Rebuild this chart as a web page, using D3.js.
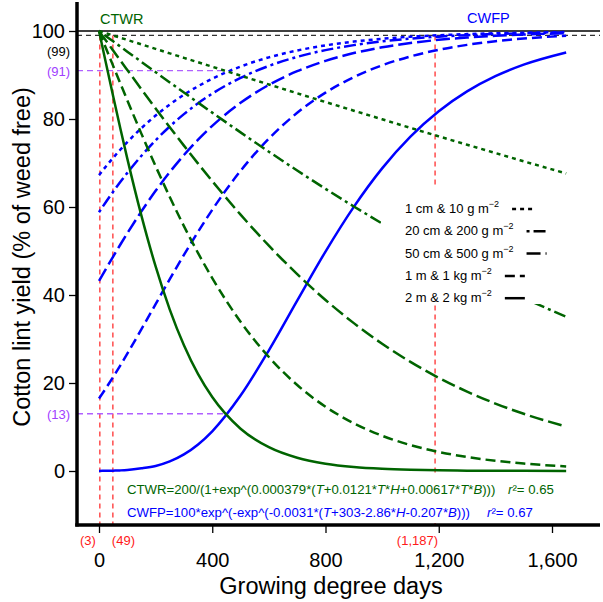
<!DOCTYPE html>
<html>
<head>
<meta charset="utf-8">
<script src="https://cdn.jsdelivr.net/npm/d3@7"></script>
<style>
  body { margin: 0; background: #fff; }
  svg { font-family: Arial, "Liberation Sans", Helvetica, sans-serif; }
</style>
</head>
<body>
<div id="chart"></div>
<script>
// Growing degree days sampled along the curves
var gdd = [0, 25, 50, 75, 100, 150, 200, 250, 300, 350, 400, 500, 600, 700, 800, 900, 1000, 1100, 1200, 1300, 1400, 1500, 1650];

// CTWR (critical time of weed removal), % of weed free yield
var ctwr1cm = [100, 99.49, 98.98, 98.47, 97.97, 96.95, 95.93, 94.92, 93.90, 92.89, 91.88, 89.86, 87.85, 85.85, 83.86, 81.89, 79.93, 77.98, 76.06, 74.15, 72.26, 70.39, 67.63];
var ctwr20cm = [100, 98.83, 97.65, 96.48, 95.31, 92.97, 90.64, 88.32, 86.02, 83.72, 81.45, 76.96, 72.57, 68.29, 64.13, 60.12, 56.25, 52.53, 48.98, 45.59, 42.37, 39.32, 35.06];
var ctwr50cm = [100, 97.78, 95.56, 93.34, 91.14, 86.75, 82.41, 78.14, 73.95, 69.86, 65.88, 58.27, 51.21, 44.74, 38.87, 33.61, 28.92, 24.80, 21.18, 18.05, 15.33, 13.00, 10.11];
var ctwr1m = [100, 96.03, 92.08, 88.15, 84.25, 76.62, 69.27, 62.26, 55.66, 49.52, 43.84, 33.93, 25.90, 19.54, 14.61, 10.85, 8.02, 5.90, 4.33, 3.17, 2.32, 1.69, 1.05];
var ctwr2m = [100, 92.55, 85.18, 77.97, 70.99, 57.98, 46.49, 36.69, 28.57, 22.00, 16.80, 9.61, 5.41, 3.01, 1.67, 0.92, 0.51, 0.28, 0.15, 0.08, 0.05, 0.03, 0.01];

// CWFP (critical weed free period)
var cwfp1cm = [67.24, 69.26, 71.18, 73.01, 74.74, 77.93, 80.78, 83.29, 85.51, 87.45, 89.15, 91.92, 94.01, 95.57, 96.73, 97.59, 98.23, 98.70, 99.04, 99.30, 99.48, 99.62, 99.76];
var cwfp20cm = [58.82, 61.20, 63.48, 65.67, 67.76, 71.65, 75.17, 78.31, 81.11, 83.59, 85.77, 89.35, 92.07, 94.12, 95.65, 96.79, 97.64, 98.26, 98.72, 99.06, 99.31, 99.49, 99.68];
var cwfp50cm = [43.20, 45.99, 48.73, 51.42, 54.03, 59.02, 63.67, 67.93, 71.81, 75.31, 78.44, 83.68, 87.75, 90.86, 93.21, 94.98, 96.29, 97.27, 97.99, 98.52, 98.91, 99.20, 99.50];
var cwfp1m = [16.49, 18.87, 21.37, 23.97, 26.67, 32.24, 37.93, 43.59, 49.11, 54.39, 59.36, 68.22, 75.54, 81.40, 85.99, 89.52, 92.20, 94.22, 95.73, 96.85, 97.68, 98.29, 98.92];
var cwfp2m = [0.02, 0.05, 0.08, 0.14, 0.23, 0.60, 1.15, 2.18, 3.77, 6.03, 9.03, 17.14, 27.43, 38.73, 49.87, 60.03, 68.78, 75.99, 81.76, 86.27, 89.73, 92.36, 95.13];

// legend labels and tick values
var legendLabels = ["1 cm & 10 g m", "20 cm & 200 g m", "50 cm & 500 g m", "1 m & 1 kg m", "2 m & 2 kg m"];
var xTicks = [0, 400, 800, 1200, 1600];
var yTicks = [0, 20, 40, 60, 80, 100];

// reference marks
var redGdd = [3, 49, 1187];
var redLabels = ["(3)", "(49)", "(1,187)"];
var purpleYield = [91, 13];
var purpleGdd = [444, 445];

// Set size of chart
var svgWidth = 603;
var svgHeight = 602;

var svg = d3.select("#chart")
  .append("svg")
  .attr("width", svgWidth)
  .attr("height", svgHeight);

var x = d3.scaleLinear().domain([0, 1600]).range([99, 552]);
var y = d3.scaleLinear().domain([0, 100]).range([471, 31]);

var axisLeftX = 77, axisBottomY = 525, plotRight = 600, plotTop = 2;

var green = "#006400", blue = "#0000ff", red = "#ff3030", purple = "#b060ff";

// dash patterns for the 5 height & biomass levels
var dashes = ["4,4", "3,4,12,4", "14,5", "10,5", null];

// Reference lines
svg.append("line")
  .attr("x1", axisLeftX).attr("x2", plotRight)
  .attr("y1", y(100)).attr("y2", y(100))
  .attr("stroke", "#000").attr("stroke-width", 1.3);
svg.append("line")
  .attr("x1", axisLeftX).attr("x2", plotRight)
  .attr("y1", y(99)).attr("y2", y(99))
  .attr("stroke", "#333").attr("stroke-width", 1.3)
  .attr("stroke-dasharray", "5,4");

svg.selectAll(".redline")
  .data(redGdd)
  .enter()
  .append("line")
  .attr("class", "redline")
  .attr("x1", d => x(d)).attr("x2", d => x(d))
  .attr("y1", y(99)).attr("y2", axisBottomY)
  .attr("stroke", red).attr("stroke-width", 1.3)
  .attr("stroke-dasharray", "5,4");

svg.selectAll(".purpleline")
  .data(purpleYield)
  .enter()
  .append("line")
  .attr("class", "purpleline")
  .attr("x1", axisLeftX).attr("x2", (d, i) => x(purpleGdd[i]))
  .attr("y1", d => y(d)).attr("y2", d => y(d))
  .attr("stroke", purple).attr("stroke-width", 1.4)
  .attr("stroke-dasharray", "6,4");

// Curves
var line = d3.line()
  .x(d => x(d[0]))
  .y(d => y(d[1]))
  .curve(d3.curveMonotoneX);

var ctwrSeries = [ctwr1cm, ctwr20cm, ctwr50cm, ctwr1m, ctwr2m];
var cwfpSeries = [cwfp1cm, cwfp20cm, cwfp50cm, cwfp1m, cwfp2m];

function drawSeries(series, color) {
  series.forEach(function(vals, i) {
    var path = svg.append("path")
      .datum(gdd.map((g, j) => [g, vals[j]]))
      .attr("d", line)
      .attr("fill", "none")
      .attr("stroke", color)
      .attr("stroke-width", 2.5);
    if (dashes[i]) path.attr("stroke-dasharray", dashes[i]);
  });
}
drawSeries(cwfpSeries, blue);
drawSeries(ctwrSeries, green);

// Axes
var leftAxis = d3.axisLeft(y).tickValues(yTicks).tickSize(8).tickPadding(4);
var yAxisG = svg.append("g")
  .attr("transform", `translate(${axisLeftX}, 0)`)
  .call(leftAxis);
yAxisG.select(".domain").remove();
yAxisG.selectAll("line").attr("stroke-width", 1.3);
yAxisG.selectAll("text").attr("font-size", 20).attr("font-family", "Arial, 'Liberation Sans', sans-serif");

var bottomAxis = d3.axisBottom(x).tickValues(xTicks).tickSize(8).tickPadding(20).tickFormat(d3.format(","));
var xAxisG = svg.append("g")
  .attr("transform", `translate(0, ${axisBottomY})`)
  .call(bottomAxis);
xAxisG.select(".domain").remove();
xAxisG.selectAll("line").attr("stroke-width", 1.3);
xAxisG.selectAll("text").attr("font-size", 20).attr("font-family", "Arial, 'Liberation Sans', sans-serif");

svg.append("line")
  .attr("x1", axisLeftX).attr("x2", axisLeftX)
  .attr("y1", plotTop).attr("y2", axisBottomY + 1.5)
  .attr("stroke", "#000").attr("stroke-width", 3.5);
svg.append("line")
  .attr("x1", axisLeftX - 1.75).attr("x2", plotRight)
  .attr("y1", axisBottomY).attr("y2", axisBottomY)
  .attr("stroke", "#000").attr("stroke-width", 3.5);

// Axis titles
svg.append("text")
  .attr("x", 331).attr("y", 594)
  .attr("text-anchor", "middle")
  .attr("font-size", 23.5)
  .text("Growing degree days");
svg.append("text")
  .attr("transform", "translate(30, 257) rotate(-90)")
  .attr("text-anchor", "middle")
  .attr("font-size", 23.5)
  .text("Cotton lint yield (% of weed free)");

// Reference labels
svg.append("text").attr("x", 70).attr("y", 56).attr("text-anchor", "end")
  .attr("font-size", 13).attr("fill", "#000").text("(99)");
svg.selectAll(".purplelabel")
  .data(purpleYield)
  .enter()
  .append("text")
  .attr("class", "purplelabel")
  .attr("x", 70).attr("y", d => y(d) + 5)
  .attr("text-anchor", "end")
  .attr("font-size", 13).attr("fill", "#a040ff")
  .text(d => "(" + d + ")");
svg.selectAll(".redlabel")
  .data(redGdd)
  .enter()
  .append("text")
  .attr("class", "redlabel")
  .attr("x", (d, i) => i === 0 ? x(d) - 4 : (i === 1 ? x(d) - 1 : x(d) + 3))
  .attr("y", 545)
  .attr("text-anchor", (d, i) => i === 1 ? "start" : "end")
  .attr("font-size", 13).attr("fill", "#ff1a1a")
  .text((d, i) => redLabels[i]);

svg.append("text").attr("x", 100).attr("y", 24)
  .attr("font-size", 14.5).attr("fill", green).text("CTWR");
svg.append("text").attr("x", 467).attr("y", 23)
  .attr("font-size", 14.5).attr("fill", blue).text("CWFP");

// Legend
svg.append("rect")
  .attr("x", 381).attr("y", 185).attr("width", 195).attr("height", 119)
  .attr("fill", "#fff");

legendLabels.forEach(function(lab, i) {
  var cy = 208 + i * 22.3;
  var t = svg.append("text")
    .attr("x", 405).attr("y", cy + 5)
    .attr("font-size", 13).attr("fill", "#000");
  t.append("tspan").text(lab);
  t.append("tspan").attr("font-size", 9).attr("dy", -6).text("\u22122");
  var end = 405 + t.node().getComputedTextLength();
  var l = svg.append("line")
    .attr("x1", end + 13).attr("x2", end + 33)
    .attr("y1", cy + 1).attr("y2", cy + 1)
    .attr("stroke", "#000").attr("stroke-width", 2.5);
  if (dashes[i]) l.attr("stroke-dasharray", dashes[i]);
});

// Formula box
svg.append("rect")
  .attr("x", 120).attr("y", 474).attr("width", 440).attr("height", 49)
  .attr("fill", "#fff");

function formula(parts, color, yy) {
  var t = svg.append("text").attr("x", 127).attr("y", yy)
    .attr("font-size", 13.2).attr("fill", color);
  parts.forEach(function(p) {
    var s = t.append("tspan");
    if (typeof p === "string") s.text(p);
    else s.attr("font-style", "italic").text(p.i);
  });
}
formula(["CTWR=200/(1+exp^(0.000379*(", {i: "T"}, "+0.0121*", {i: "T"}, "*", {i: "H"}, "+0.00617*", {i: "T"}, "*", {i: "B"}, ")))"], green, 494);
formula(["CWFP=100*exp^(-exp^(-0.0031*(", {i: "T"}, "+303-2.86*", {i: "H"}, "-0.207*", {i: "B"}, ")))"], blue, 517);

function rsq(val, color, xx, yy) {
  var t = svg.append("text").attr("x", xx).attr("y", yy)
    .attr("font-size", 13.2).attr("fill", color);
  t.append("tspan").attr("font-style", "italic").text("r");
  t.append("tspan").text("\u00b2= " + val);
}
rsq("0.65", green, 508, 494);
rsq("0.67", blue, 487, 517);
</script>
</body>
</html>
